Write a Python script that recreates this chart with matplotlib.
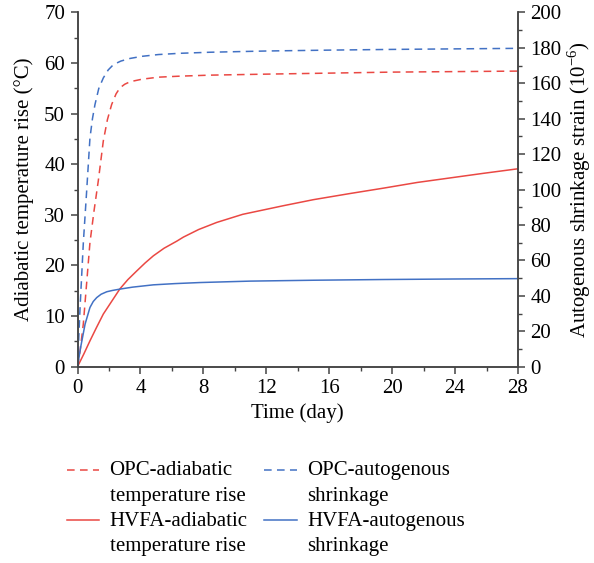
import matplotlib
matplotlib.use("Agg")
import matplotlib.pyplot as plt
import numpy as np
from matplotlib.ticker import MultipleLocator

plt.rcParams["font.family"] = ["Liberation Serif", "DejaVu Serif"]
plt.rcParams["mathtext.fontset"] = "custom"
plt.rcParams["mathtext.rm"] = "Liberation Serif"

RED = "#ea4843"
BLUE = "#4271c4"

# OPC adiabatic temperature rise (°C)
opc_temp_day = [0, 0.18, 0.37, 0.58, 0.79, 1.05, 1.32, 1.64, 1.9, 2.17, 2.45, 2.7,
                3.0, 3.34, 4.1, 5.14, 6.5, 8.42, 12, 16, 20, 24, 28]
opc_temp = [0, 3.5, 8.5, 16.5, 24.5, 30.8, 36.7, 44.6, 48.8, 51.8, 53.9, 55.1,
            55.8, 56.3, 56.8, 57.2, 57.4, 57.6, 57.8, 58.0, 58.2, 58.3, 58.4]

# HVFA adiabatic temperature rise (°C)
hvfa_temp_day = [0, 0.4, 0.79, 1.2, 1.64, 2.17, 2.7, 3.2, 3.76, 4.3, 4.82, 5.5,
                 6.31, 6.73, 7.7, 8.85, 10.5, 13.08, 15, 17.3, 19.5, 21.6, 23.7,
                 25.8, 28]
hvfa_temp = [0, 2.5, 5.1, 7.7, 10.4, 12.9, 15.4, 17.2, 18.9, 20.5, 21.9, 23.4,
             24.8, 25.6, 27.1, 28.5, 30.1, 31.8, 33.0, 34.2, 35.3, 36.4, 37.3,
             38.2, 39.1]

# OPC autogenous shrinkage (1e-6)
opc_shr_day = [0, 0.16, 0.37, 0.58, 0.79, 0.95, 1.11, 1.35, 1.64, 1.95, 2.28,
               2.75, 3.34, 4.1, 5.14, 6.5, 8.42, 12, 16, 20, 24, 28]
opc_shr = [0, 33, 70, 99, 129, 140, 148, 157, 163, 167.5, 170.5,
           172.5, 174, 175.2, 176.2, 176.9, 177.5, 178.2, 178.7, 179.1, 179.4, 179.7]

# HVFA autogenous shrinkage (1e-6)
hvfa_shr_day = [0, 0.2, 0.48, 0.79, 1.0, 1.22, 1.5, 1.86, 2.2, 2.7, 3.5, 4.82,
                6.2, 7.79, 10.97, 15, 19.4, 24, 28]
hvfa_shr = [0, 11, 24, 33.4, 36.8, 39, 40.9, 42.3, 43.0, 43.8, 44.9, 46.2,
            46.9, 47.5, 48.3, 48.8, 49.2, 49.5, 49.7]

fig = plt.figure(figsize=(5.94, 5.63), dpi=100)
ax = fig.add_axes([0.1305, 0.3487, 0.7415, 0.6293])
ax2 = ax.twinx()

dash = (0, (5, 3.5))
l1, = ax.plot(opc_temp_day, opc_temp, color=RED, lw=1.1, ls=dash,
              label="OPC-adiabatic\ntemperature rise")
l3, = ax.plot(hvfa_temp_day, hvfa_temp, color=RED, lw=1.1,
              label="HVFA-adiabatic\ntemperature rise")
l2, = ax2.plot(opc_shr_day, opc_shr, color=BLUE, lw=1.1, ls=dash,
               label="OPC-autogenous\nshrinkage")
l4, = ax2.plot(hvfa_shr_day, hvfa_shr, color=BLUE, lw=1.1,
               label="HVFA-autogenous\nshrinkage")

ax.set_xlim(0, 28)
ax.set_ylim(0, 70)
ax2.set_ylim(0, 200)
ax.xaxis.set_major_locator(MultipleLocator(4))
ax.xaxis.set_minor_locator(MultipleLocator(2))
ax.yaxis.set_major_locator(MultipleLocator(10))
ax.yaxis.set_minor_locator(MultipleLocator(5))
ax2.yaxis.set_major_locator(MultipleLocator(20))
ax2.yaxis.set_minor_locator(MultipleLocator(10))

spine_col = "#444444"
for a in (ax, ax2):
    a.spines["top"].set_visible(False)
    for s in ("left", "right", "bottom"):
        a.spines[s].set_color(spine_col)
        a.spines[s].set_linewidth(1.1)
    a.tick_params(which="major", length=5, width=1.1, color=spine_col,
                  labelsize=15, pad=4)
    a.tick_params(which="minor", length=3, width=1.0, color=spine_col)

ax.set_xlabel("Time (day)", fontsize=15, labelpad=4)
ax.set_ylabel("Adiabatic temperature rise (°C)", fontsize=15, labelpad=7)
ax2.set_ylabel("Autogenous shrinkage strain (10$^{-6}$)", fontsize=15, labelpad=3)

leg = fig.legend(handles=[l1, l3, l2, l4], loc="upper left",
                 bbox_to_anchor=(0.081, 0.214), ncol=2, frameon=False, fontsize=15,
                 handlelength=1.55, columnspacing=0.8, labelspacing=0.3,
                 handletextpad=0.5)
for t in leg.get_texts():
    t.set_linespacing(1.45)
# line the handles up with the first line of each two-line label
for h in leg.legend_handles:
    h.set_ydata(np.asarray(h.get_ydata()) + 9.5)

fig.savefig("out.png", dpi=100)
